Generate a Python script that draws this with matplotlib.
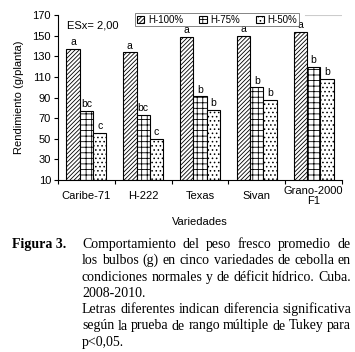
import numpy as np
import matplotlib
matplotlib.use("Agg")
from matplotlib import pyplot as plt

variedades = ["Caribe-71", "H-222", "Texas", "Sivan", "Grano-2000\nF1"]
h100 = [137, 134, 149, 150, 154]
h75 = [77, 73, 91, 100, 120]
h50 = [56, 50, 78, 88, 108]
let100 = ["a", "a", "a", "a", "a"]
let75 = ["bc", "bc", "b", "b", "b"]
let50 = ["c", "c", "b", "b", "b"]
series_names = ["H-100%", "H-75%", "H-50%"]
yticks = [10, 30, 50, 70, 90, 110, 130, 150, 170]

caption_lines = [
    "Comportamiento del peso fresco promedio de",
    "los bulbos (g) en cinco variedades de cebolla en",
    "condiciones normales y de déficit hídrico. Cuba.",
    "2008-2010.",
    "Letras diferentes indican diferencia significativa",
    "según la prueba de rango múltiple de Tukey para",
    "p<0,05.",
]
justify = [True, True, True, False, True, True, False]

plt.rcParams['font.family'] = ['Liberation Sans', 'DejaVu Sans']
plt.rcParams['hatch.linewidth'] = 0.6

W, H = 355, 352
fig = plt.figure(figsize=(W / 100, H / 100), dpi=100)
ax = fig.add_axes([58 / W, 1 - 180 / H, 284 / W, 165 / H])

x = np.arange(len(variedades))
w = 0.235
hatches = ["////////", "+++", "...."]
data = [h100, h75, h50]
letters = [let100, let75, let50]
for i, (vals, lets) in enumerate(zip(data, letters)):
    pos = x + (i - 1) * w
    ax.bar(pos, np.array(vals) - 10, bottom=10, width=w, color="white",
           edgecolor="black", linewidth=0.8, hatch=hatches[i],
           label=series_names[i])
    for p, v, l in zip(pos, vals, lets):
        ax.text(p, v + 1.5, l, ha="center", va="bottom", fontsize=7.5)

ax.set_xlim(-0.5, len(variedades) - 0.5)
ax.set_ylim(10, 170)
ax.set_yticks(yticks)
ax.tick_params(axis="y", labelsize=8, length=3, width=0.8, pad=2)
ax.set_xticks(x)
ax.set_xticklabels(variedades, fontsize=8, va="center", linespacing=1.0)
ax.set_xticks(np.arange(-0.5, len(variedades)), minor=True)
ax.tick_params(axis="x", which="major", length=0, pad=11.5)
ax.tick_params(axis="x", which="minor", length=3, width=0.8)
for s in ["top", "right"]:
    ax.spines[s].set_visible(False)
ax.spines["left"].set_linewidth(0.8)
ax.spines["bottom"].set_linewidth(0.8)
ax.axhline(170, xmin=0.87, xmax=1, color="0.8", lw=0.8)

ax.set_ylabel("Rendimiento (g/planta)", fontsize=8, labelpad=6)
ax.set_xlabel("Variedades", fontsize=8)
ax.xaxis.set_label_coords(0.5, -0.225)
ax.text(0.03, 0.935, "ESx= 2,00", transform=ax.transAxes, fontsize=8,
        ha="left", va="center")

leg = ax.legend(loc="upper center", bbox_to_anchor=(0.56, 1.01), ncol=3,
                fontsize=7, frameon=True, fancybox=False, handlelength=0.8,
                handleheight=0.8, handletextpad=0.4, columnspacing=1.6,
                borderpad=0.15, borderaxespad=0)
leg.get_frame().set_edgecolor("0.3")
leg.get_frame().set_linewidth(0.6)

# caption
fig.text(12 / W, 1 - 248 / H, "Figura 3.", fontsize=10, fontweight="bold",
         family="Liberation Serif", ha="left", va="baseline")
renderer = fig.canvas.get_renderer()
x0, x1 = 82 / W, 351 / W
for k, (line, jus) in enumerate(zip(caption_lines, justify)):
    yb = 1 - (248 + k * 16.3) / H
    if not jus:
        fig.text(x0, yb, line, fontsize=10, family="Liberation Serif",
                 ha="left", va="baseline")
        continue
    words = line.split(" ")
    arts = [fig.text(0, yb, wd, fontsize=10, family="Liberation Serif",
                     ha="left", va="baseline") for wd in words]
    widths = [a.get_window_extent(renderer).width / W for a in arts]
    gap = (x1 - x0 - sum(widths)) / (len(words) - 1)
    cx = x0
    for a, wd in zip(arts, widths):
        a.set_x(cx)
        cx += wd + gap

fig.savefig("out.png", dpi=100)
